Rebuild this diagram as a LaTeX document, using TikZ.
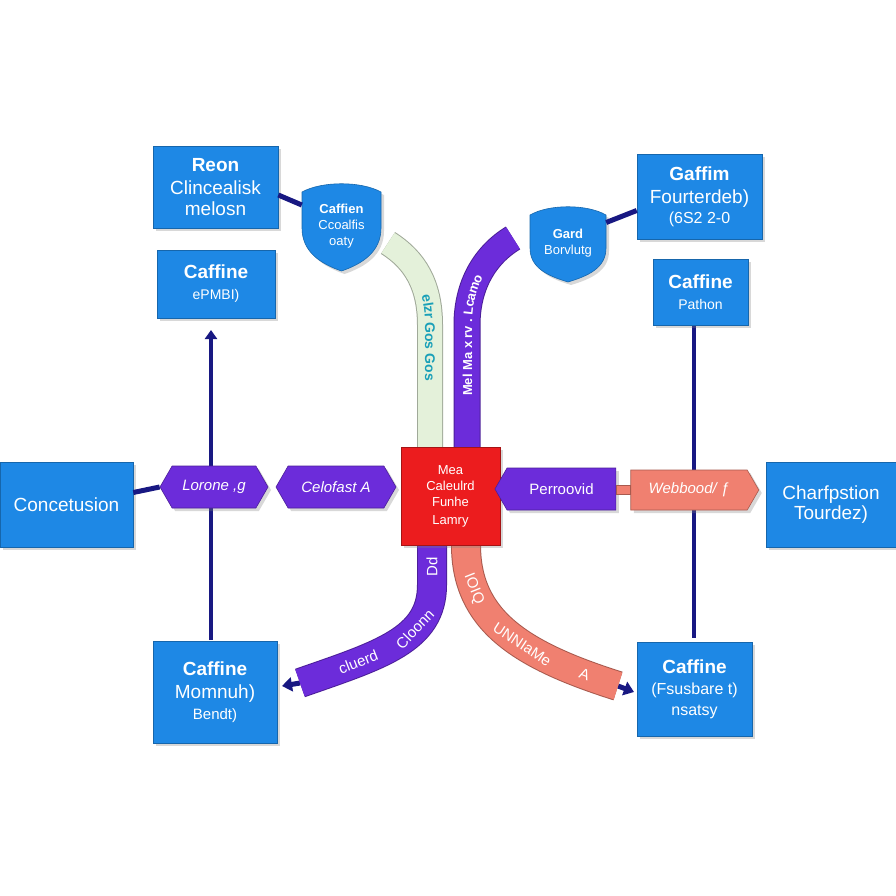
\documentclass[tikz,border=0pt]{standalone}
\usepackage{fontspec}
\setmainfont{Liberation Sans}
\usetikzlibrary{shapes.symbols,shadows,decorations.text,arrows.meta}
\definecolor{bx}{RGB}{30,136,229}
\definecolor{pu}{RGB}{108,44,218}
\definecolor{nv}{RGB}{24,24,130}
\definecolor{rd}{RGB}{236,28,30}
\definecolor{sa}{RGB}{240,128,112}
\definecolor{gr}{RGB}{228,241,218}
\definecolor{tl}{RGB}{26,160,184}
\begin{document}
\begin{tikzpicture}[x=1pt,y=-1pt,
  shad/.style={drop shadow={opacity=0.3,shadow xshift=3pt,shadow yshift=-3pt}},
  box/.style={rectangle,fill=bx,draw=bx!75!black,line width=0.6pt,text=white,align=center,inner sep=2pt,shad,font=\fontsize{19}{23}\selectfont},
  shieldtext/.style={rectangle,draw=none,text=white,align=center,inner sep=0pt,font=\fontsize{13}{16}\selectfont},
  tagp/.style={shape=signal,fill=pu,draw=pu!70!black,line width=0.6pt,text=white,inner sep=2pt,signal pointer angle=120,shad,font=\fontsize{15}{17}\selectfont\itshape},
  tags/.style={shape=signal,fill=sa,draw=sa!70!black,line width=0.6pt,text=white,inner sep=2pt,signal pointer angle=120,shad,font=\fontsize{15}{17}\selectfont\itshape},
  conn/.style={draw=nv,line width=5pt},
  vline/.style={draw=nv,line width=3.5pt},
  ribbon/.style={line width=#1,line cap=butt},
  rtext/.style={sloped,text=white,inner sep=0pt,font=\fontsize{15}{15}\selectfont}
]
\useasboundingbox (0,0) rectangle (896,896);
\fill[white] (0,0) rectangle (896,896);

% vertical lines
\coordinate (vlt) at (211,330);
\coordinate (vlb) at (211,640);
\coordinate (vrt) at (694,325);
\coordinate (vrb) at (694,638);

% ribbons behind
\coordinate (g1) at (388,243);
\coordinate (g2) at (430,447);
\coordinate (p1) at (513,238);
\coordinate (p2) at (467,447);
\coordinate (b1) at (432,545);
\coordinate (b2) at (300,683);
\coordinate (s1) at (466,545);
\coordinate (s2) at (618,686);

\draw[ribbon=26pt,draw=gr!70!black] (g1) .. controls (415,260) and (430,285) .. (430,325) -- (g2);
\draw[ribbon=24pt,draw=gr] (g1) .. controls (415,260) and (430,285) .. (430,325) -- (g2);
\path[decorate,decoration={text along path,text align=center,raise=-5pt,
  text={|\fontsize{14}{14}\selectfont\bfseries\color{tl}|elzr Gos  Gos}}]
  (g1) .. controls (415,260) and (430,285) .. (430,325) -- (g2);

\draw[ribbon=27pt,draw=pu!70!black] (p2) -- (467,325) .. controls (467,285) and (485,255) .. (p1);
\draw[ribbon=25pt,draw=pu] (p2) -- (467,325) .. controls (467,285) and (485,255) .. (p1);
\path[decorate,decoration={text along path,text align=center,raise=-5pt,
  text={|\fontsize{13}{13}\selectfont\bfseries\color{white}|Mel Ma x rv . Lcamo}}]
  (p2) -- (467,325) .. controls (467,285) and (485,255) .. (p1);

\draw[conn,-{Triangle[length=10pt,width=14pt]}] (b2) -- (282,686);
\draw[ribbon=30pt,draw=pu!70!black] (b2) .. controls (380,655) and (432,640) .. (432,585) -- (b1);
\draw[ribbon=28pt,draw=pu] (b2) .. controls (380,655) and (432,640) .. (432,585) -- (b1);
\path (b2) .. controls (380,655) and (432,640) .. (432,585)
  node[rtext,pos=0.27] {cluerd}
  node[rtext,pos=0.66] {Cloonn}
  -- (b1) node[rtext,pos=0.45] {Dd};

\draw[conn,-{Triangle[length=10pt,width=14pt]}] (s2) -- (634,692);
\draw[ribbon=30pt,draw=sa!70!black] (s1) .. controls (466,620) and (520,655) .. (s2);
\draw[ribbon=28pt,draw=sa] (s1) .. controls (466,620) and (520,655) .. (s2);
\path (s1) .. controls (466,620) and (520,655) .. (s2)
  node[rtext,pos=0.22] {IOIQ}
  node[rtext,pos=0.6] {UNNIaMe}
  node[rtext,pos=0.88] {A};

% vertical lines
\draw[vline,-{Triangle[length=9pt,width=12pt]}] (vlb) -- (vlt);
\draw[vline] (vrt) -- (vrb);

% boxes
\node[box,minimum width=125,minimum height=82] (tlb) at (215.5,187) {{\bfseries Reon}\\Clincealisk\\[-2pt]melosn};
\node[box,minimum width=118,minimum height=68] (b2x) at (216,284) {{\bfseries Caffine}\\[-2pt]{\fontsize{14}{16}\selectfont ePMBI)}};
\node[box,minimum width=125,minimum height=85] (trb) at (699.5,196.5) {{\bfseries Gaffim}\\Fourterdeb)\\[-3pt]{\fontsize{16}{18}\selectfont (6S2 2-0}};
\node[box,minimum width=95,minimum height=66] (r2x) at (700.5,292) {{\bfseries Caffine}\\[-2pt]{\fontsize{14}{16}\selectfont Pathon}};
\node[box,minimum width=133,minimum height=85] (conc) at (66.5,504.5) {Concetusion};
\node[box,minimum width=130,minimum height=85] (char) at (831,504.5) {Charfpstion\\[-3pt]Tourdez)};
\node[box,minimum width=124,minimum height=102] (blb) at (215,692) {{\bfseries Caffine}\\Momnuh)\\[-2pt]{\fontsize{15}{17}\selectfont Bendt)}};
\node[box,minimum width=115,minimum height=94] (brb) at (694.5,689) {{\bfseries Caffine}\\[-2pt]{\fontsize{16}{19}\selectfont (Fsusbare t)}\\[-2pt]{\fontsize{16}{19}\selectfont nsatsy}};
\node[rectangle,fill=rd,draw=rd!70!black,line width=0.6pt,text=white,align=center,shad,minimum width=99,minimum height=98,font=\fontsize{13}{16}\selectfont] (red) at (450.5,496) {Mea\\Caleulrd\\Funhe\\[2pt]Lamry};

% shields
\fill[bx,shad,draw=bx!75!black,line width=0.6pt] (302,192) .. controls (322,181) and (361,181) .. (381,192) -- (381,228) .. controls (381,252) and (362,264) .. (341.5,271) .. controls (321,264) and (302,252) .. (302,228) -- cycle;
\node[shieldtext,minimum width=79,minimum height=88] (shl) at (341.5,226) {\bfseries Caffien\\Ccoalfis\\oaty};
\fill[bx,shad,draw=bx!75!black,line width=0.6pt] (530,215) .. controls (549,204) and (587,204) .. (606,215) -- (606,248) .. controls (606,268) and (588,276) .. (568,282) .. controls (548,276) and (530,268) .. (530,248) -- cycle;
\node[shieldtext,minimum width=76,minimum height=77] (shr) at (568,243.5) {\bfseries Gard\\Borvlutg};

% tags
\node[tagp,signal to=east and west,minimum width=108,minimum height=42] (lor) at (214,487) {Lorone ,g};
\node[tagp,signal to=east and west,minimum width=120,minimum height=42] (cel) at (336,487) {Celofast A};
\node[tagp,signal to=west,minimum width=121,minimum height=42,font=\fontsize{15}{17}\selectfont] (per) at (561.5,489) {Perroovid};
\node[tags,signal to=east,minimum width=128,minimum height=40] (web) at (689,490) {Webbood/ ƒ};

% connectors
\draw[conn] ([yshift=-8]tlb.east) -- ([yshift=21]shl.west);
\draw[conn] ([yshift=21]shr.east) -- ([yshift=-14]trb.west);
\draw[conn] ([yshift=12]conc.east) -- (lor.west);
\draw[draw=sa!70!black,fill=sa,line width=0.6pt] ([yshift=-5]per.east) rectangle ([yshift=5]web.west);
\end{tikzpicture}
\end{document}
